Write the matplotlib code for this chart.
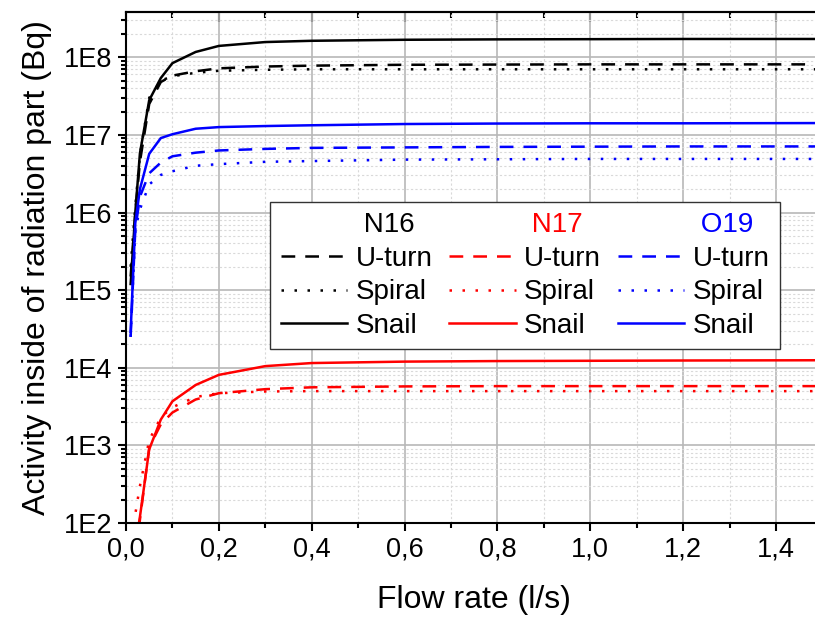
import numpy as np
import matplotlib.pyplot as plt
from matplotlib.lines import Line2D
from matplotlib.ticker import MultipleLocator, LogLocator, FuncFormatter, NullFormatter

plt.rcParams['font.family'] = ['Liberation Sans', 'DejaVu Sans']

# flow rate (l/s)
flow = [0.01, 0.02, 0.03, 0.05, 0.075, 0.1, 0.15, 0.2, 0.3, 0.4, 0.6, 0.8, 1.0, 1.2, 1.5]

# activity (Bq)
n16_uturn = [1.5e5, 1.0e6, 4.5e6, 2.5e7, 4.8e7, 5.8e7, 6.6e7, 7.2e7, 7.6e7, 7.8e7, 8.0e7, 8.05e7, 8.1e7, 8.1e7, 8.1e7]
n16_spiral = [2.0e5, 1.2e6, 5.5e6, 3.0e7, 5.0e7, 5.7e7, 6.3e7, 6.7e7, 6.9e7, 7.0e7, 7.0e7, 7.0e7, 7.0e7, 7.0e7, 7.0e7]
n16_snail = [1.2e5, 1.0e6, 5.8e6, 2.8e7, 5.4e7, 8.4e7, 1.17e8, 1.4e8, 1.57e8, 1.63e8, 1.68e8, 1.7e8, 1.71e8, 1.72e8, 1.72e8]

n17_uturn = [10, 40, 1.1e2, 9.4e2, 1.87e3, 2.65e3, 3.9e3, 4.7e3, 5.3e3, 5.6e3, 5.75e3, 5.8e3, 5.8e3, 5.8e3, 5.8e3]
n17_spiral = [30, 1.3e2, 3.0e2, 1.17e3, 2.3e3, 3.1e3, 4.2e3, 4.7e3, 4.95e3, 5.0e3, 5.0e3, 5.0e3, 5.0e3, 5.0e3, 5.0e3]
n17_snail = [10, 50, 1.2e2, 8.9e2, 2.15e3, 3.7e3, 6.0e3, 8.1e3, 1.05e4, 1.15e4, 1.2e4, 1.22e4, 1.23e4, 1.24e4, 1.25e4]

o19_uturn = [2.5e4, 6.0e5, 1.6e6, 3.2e6, 4.4e6, 5.3e6, 5.9e6, 6.3e6, 6.6e6, 6.8e6, 6.9e6, 7.0e6, 7.05e6, 7.1e6, 7.1e6]
o19_spiral = [2.5e4, 6.0e5, 1.1e6, 2.3e6, 3.05e6, 3.4e6, 4.0e6, 4.2e6, 4.5e6, 4.6e6, 4.8e6, 4.85e6, 4.9e6, 4.9e6, 4.9e6]
o19_snail = [2.9e4, 7.3e5, 2.0e6, 5.7e6, 9.1e6, 1.02e7, 1.2e7, 1.26e7, 1.3e7, 1.33e7, 1.38e7, 1.4e7, 1.41e7, 1.41e7, 1.42e7]

nuclides = ['N16', 'N17', 'O19']
colors = ['black', 'red', 'blue']
designs = ['U-turn', 'Spiral', 'Snail']
styles = [(0, (5.5, 4.0)), (0, (1.0, 4.2)), '-']
series = [[n16_uturn, n16_spiral, n16_snail],
          [n17_uturn, n17_spiral, n17_snail],
          [o19_uturn, o19_spiral, o19_snail]]

fig = plt.figure(figsize=(8.15, 6.18), dpi=100)
ax = fig.add_axes([0.1546, 0.1537, 0.8545, 0.8269])

handles = []
for nuc, col, data in zip(nuclides, colors, series):
    handles.append(Line2D([], [], color='none'))
    for des, ls, vals in zip(designs, styles, data):
        h, = ax.plot(flow, vals, color=col, ls=ls, lw=1.8)
        handles.append(h)

labels = []
for nuc in nuclides:
    labels.append(' ' + nuc)
    labels.extend(designs)

ax.set_yscale('log')
ax.set_xlim(0, 1.5)
ax.set_ylim(1e2, 3.83e8)

ax.xaxis.set_major_locator(MultipleLocator(0.2))
ax.xaxis.set_minor_locator(MultipleLocator(0.1))
ax.xaxis.set_major_formatter(FuncFormatter(lambda v, p: f'{v:.1f}'.replace('.', ',')))
ax.yaxis.set_major_locator(LogLocator(base=10, numticks=20))
ax.yaxis.set_minor_locator(LogLocator(base=10, subs=np.arange(2, 10), numticks=20))
ax.yaxis.set_major_formatter(FuncFormatter(lambda v, p: f'1E{int(round(np.log10(v)))}'))
ax.yaxis.set_minor_formatter(NullFormatter())

ax.tick_params(which='both', direction='out', labelsize=19.5, width=1.5)
ax.tick_params(which='major', length=6, pad=4)
ax.tick_params(which='minor', length=3.5)

ax.grid(which='major', color='#b8b8b8', lw=1.2)
ax.grid(which='minor', color='#d9d9d9', ls=(0, (2, 2)), lw=0.8)
ax.set_axisbelow(True)

for s in ax.spines.values():
    s.set_linewidth(1.5)

top = ax.secondary_xaxis('top')
top.xaxis.set_major_locator(MultipleLocator(0.2))
top.xaxis.set_minor_locator(MultipleLocator(0.1))
top.tick_params(which='both', direction='in', labeltop=False, width=1.5)
top.tick_params(which='major', length=7)
top.tick_params(which='minor', length=4)
top.spines['top'].set_linewidth(1.5)

ax.set_xlabel('Flow rate (l/s)', fontsize=23, labelpad=16)
ax.set_ylabel('Activity inside of radiation part (Bq)', fontsize=23, labelpad=8)

leg = ax.legend(handles, labels, ncol=3, fontsize=20, loc='upper left',
                bbox_to_anchor=(0.2068, 0.6288), borderaxespad=0,
                handlelength=2.4, handletextpad=0.3, columnspacing=0.6,
                labelspacing=0.27, borderpad=0.38, fancybox=False,
                framealpha=1, edgecolor='#333333')
leg.get_frame().set_linewidth(1.0)
for i, col in zip([0, 4, 8], colors):
    leg.get_texts()[i].set_color(col)

fig.savefig('out.png', dpi=100)
